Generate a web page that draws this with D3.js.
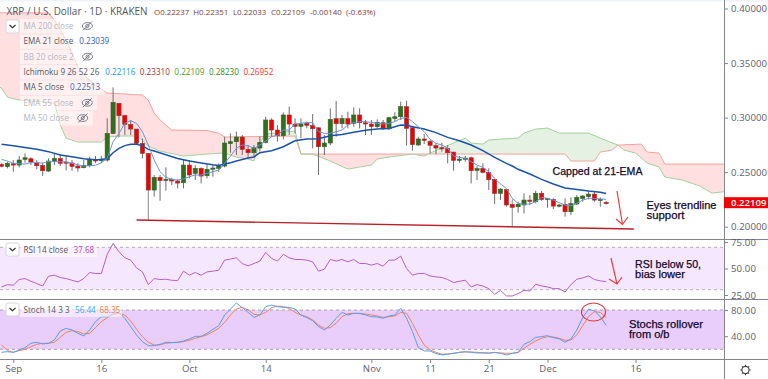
<!DOCTYPE html>
<html><head><meta charset="utf-8">
<style>html,body{margin:0;padding:0;background:#fff;overflow:hidden}svg{display:block}text{font-family:"Open Sans",sans-serif}</style>
<script src="https://cdn.jsdelivr.net/npm/d3@7/dist/d3.min.js"></script>
</head><body><svg id="c" width="768" height="379"></svg>
<script>
const FIRST=-2; // first bar is two days before 1 Sep
const openP=[.2571,.2550,.2577,.2565,.2617,.2623,.2584,.2562,.2510,.2599,.2626,.2593,.2584,.2556,.2541,.2562,.2617,.2605,.2611,.2855,.3131,.3021,.2938,.2895,.2764,.2672,.2336,.2452,.2425,.2434,.2419,.2403,.2565,.2489,.2535,.2467,.2529,.2535,.2556,.2761,.2779,.2822,.2709,.2678,.2721,.2773,.2978,.2886,.2834,.3024,.2941,.2920,.2947,.2926,.2907,.2733,.2767,.2990,.2944,.2990,.2947,.3024,.2953,.2941,.2917,.2953,.2898,.2990,.3008,.3100,.2907,.2749,.2804,.2782,.2743,.2724,.2715,.2684,.2608,.2623,.2632,.2516,.2535,.2498,.2434,.2305,.2342,.2205,.2183,.2199,.2244,.2229,.2306,.2254,.2251,.2189,.2205,.2137,.2208,.2260,.2275,.2299,.2244,.22237];
const highP=[.2581,.2596,.2611,.2648,.2672,.2636,.2611,.2587,.2626,.2666,.2666,.2645,.2611,.2581,.2611,.2642,.2648,.2648,.2993,.3277,.3131,.3021,.2978,.2895,.2810,.2672,.2474,.2474,.2544,.2449,.2434,.2617,.2611,.2565,.2544,.2574,.2571,.2581,.2825,.2855,.2871,.2840,.2749,.2749,.2825,.3008,.2993,.2932,.3048,.3100,.2993,.2993,.2963,.3033,.2907,.2840,.3085,.3152,.3024,.3054,.3094,.3085,.2978,.2978,.2984,.2978,.3008,.3048,.3146,.3155,.2907,.2825,.2849,.2795,.2764,.2770,.2749,.2684,.2648,.2648,.2642,.2556,.2581,.2535,.2434,.2351,.2342,.2251,.2229,.2306,.2290,.2330,.2327,.2260,.2260,.2208,.2260,.2269,.2290,.2290,.2330,.2321,.2269,.22351];
const lowP=[.2544,.2535,.2504,.2544,.2587,.2565,.2526,.2464,.2504,.2565,.2556,.2516,.2513,.2504,.2535,.2544,.2581,.2581,.2596,.2849,.2819,.2840,.2840,.2749,.2626,.2061,.2275,.2238,.2330,.2382,.2351,.2351,.2443,.2428,.2397,.2443,.2458,.2504,.2544,.2678,.2657,.2657,.2626,.2642,.2688,.2764,.2825,.2779,.2801,.2840,.2855,.2810,.2901,.2718,.2474,.2657,.2749,.2825,.2901,.2901,.2917,.2901,.2840,.2840,.2901,.2886,.2886,.2963,.2978,.2743,.2697,.2743,.2758,.2672,.2666,.2688,.2581,.2513,.2587,.2596,.2397,.2428,.2489,.2336,.2208,.2244,.2183,.2000,.2128,.2122,.2199,.2214,.2238,.2174,.2162,.2177,.2092,.2107,.2199,.2229,.2251,.2229,.2183,.22033];
const closeP=[.2553,.2581,.2565,.2611,.2632,.2593,.2559,.2513,.2602,.2626,.2581,.2584,.2553,.2538,.2562,.2617,.2602,.2620,.2855,.3140,.3017,.2938,.2895,.2764,.2672,.2336,.2452,.2422,.2434,.2419,.2400,.2565,.2474,.2535,.2464,.2526,.2538,.2556,.2767,.2779,.2822,.2709,.2678,.2724,.2773,.2978,.2886,.2834,.3024,.2941,.2920,.2941,.2929,.2898,.2733,.2767,.2984,.2944,.2990,.2941,.3024,.2953,.2941,.2917,.2956,.2898,.2999,.3008,.3100,.2901,.2752,.2804,.2791,.2746,.2721,.2715,.2678,.2608,.2620,.2629,.2513,.2532,.2498,.2431,.2305,.2345,.2199,.2177,.2205,.2244,.2235,.2306,.2251,.2260,.2189,.2199,.2137,.2211,.2269,.2281,.2299,.2244,.2251,.22109];
const ema21=[[-2,.2755],[0,.2743],[2,.2727],[4,.2709],[6,.2688],[8,.2657],[10,.2642],[12,.2623],[14,.2614],[15,.2617],[16,.2623],[17,.2678],[18,.2718],[19,.2743],[20,.2755],[21,.2755],[22,.2743],[23,.2709],[24,.2694],[26,.2660],[28,.2626],[30,.2602],[32,.2584],[34,.2568],[35,.2562],[36,.2574],[37,.2587],[38,.2602],[40,.2629],[41,.2639],[42,.2678],[44,.2697],[46,.2733],[48,.2788],[50,.2804],[52,.2807],[54,.2834],[56,.2846],[58,.2865],[60,.2883],[62,.2895],[64,.2901],[66,.2932],[67,.2929],[68,.2917],[70,.2895],[72,.2862],[74,.2819],[76,.2788],[78,.2749],[80,.2697],[82,.2636],[84,.2581],[85,.2556],[86,.2526],[88,.2483],[90,.2434],[92,.2391],[94,.2354],[96,.2342],[98,.2327],[100,.2315],[101,.23039]];
const ma5=[.2617,.2602,.2581,.2577,.2574,.2587,.2587,.2584,.2596,.2596,.2596,.2593,.2581,.2568,.2556,.2559,.2562,.2587,.2626,.2779,.2855,.2947,.2972,.2947,.2871,.2749,.2611,.2504,.2452,.2434,.2428,.2437,.2458,.2474,.2474,.2489,.2504,.2519,.2581,.2648,.2718,.2749,.2743,.2718,.2749,.2785,.2825,.2840,.2886,.2886,.2941,.2947,.2956,.2953,.2871,.2856,.2856,.2871,.2886,.2932,.2956,.2963,.2963,.2956,.2947,.2941,.2947,.2963,.2993,.3002,.2963,.2917,.2871,.2801,.2764,.2749,.2718,.2648,.2636,.2626,.2596,.2565,.2544,.2504,.2443,.2391,.2351,.2260,.2214,.2205,.2208,.2229,.2269,.2260,.2244,.2220,.2199,.2192,.2214,.2244,.2260,.2260,.2254,.22513];
const spanA=[[-3,.3298],[-2,.3271],[-1,.3188],[1,.3161],[7,.3133],[8,.2932],[9,.2812],[11,.2776],[15,.2776],[16,.2822],[18,.2831],[21,.2831],[22,.2794],[23,.2739],[25,.2693],[29,.2647],[33,.2666],[36,.2675],[38,.2638],[40,.2620],[41,.2602],[42,.2767],[43,.2849],[46,.2867],[48,.2877],[49,.2666],[51,.2666],[54,.2602],[57,.2528],[59,.2547],[61,.2565],[62,.2620],[64,.2638],[68,.2666],[70,.2647],[71,.2675],[73,.2721],[75,.2767],[77,.2812],[78,.2767],[80,.2757],[81,.2794],[83,.2803],[86,.2812],[87,.2858],[89,.2895],[91,.2904],[93,.2858],[98,.2858],[100,.2812],[103,.2748],[104,.2703],[106,.2675],[108,.2583],[110,.2547],[111,.2455],[114,.2427],[117,.2372],[119,.2308],[122,.2326]];
const spanB=[[-3,.3961],[6,.3959],[7,.3894],[9,.3711],[10,.3592],[11,.3464],[12,.3390],[14,.3298],[16,.3225],[22,.3207],[23,.3161],[24,.3042],[25,.2978],[27,.2886],[33,.2881],[35,.2858],[36,.2822],[48,.2831],[49,.2666],[94,.2666],[95,.2602],[99,.2602],[100,.2684],[102,.2703],[103,.2748],[107,.2757],[108,.2684],[110,.2675],[111,.2574],[122,.2574]];
const trend=[[21,.2061],[105.7,.1979]];
const rsi=[32.6,34.8,34.2,39.6,40.5,38,35.8,33.5,42.7,43.7,41.5,40.5,38.9,37.3,40.5,46.2,45.3,45.3,63.3,73.7,65.8,60.1,57.9,50.6,46.8,34.8,40.5,39.6,39.9,38.9,38.6,47.5,43.7,46.2,43.7,46.8,47.5,48.4,57.9,58.9,60.1,54.7,52.5,54.7,57,65.2,59.5,57,63.3,60.1,58.5,58.5,57.9,56.3,47.5,49.4,58.5,57,58.5,56.3,58.5,54.7,54.7,53.2,54.7,52.2,57.9,57.9,61.7,50,43.7,45.3,45.3,43,42.1,41.5,39.6,36.7,38,38.9,32.6,34.8,33.5,31,25.6,29.4,24.1,24.1,26.3,29.4,28.8,35.1,33.5,32.6,31,31,27.8,34.8,39.9,41.1,43,39.6,38.3,37.68];
const stochK=[15.4,16.4,15.4,19,22.6,29.2,30.7,28.1,29.2,34.2,48,52,49.5,44.4,40.3,49.5,62.2,69.8,69.8,73.9,76.4,67.3,54.6,41.9,31.7,25.6,25.6,27.6,30.7,30.2,30.7,32.7,35.8,39.8,39.8,44.4,50.5,56.1,72.4,81.5,90.7,83.6,76.4,68.8,72.4,85.1,87.6,85.1,84.1,84.1,81.5,72.4,68.3,63.7,54.6,49.5,57.1,67.3,76.4,72.4,74.9,74.9,72.4,69.8,69.3,67.3,70.8,72.4,82.5,67.3,47,22.6,17.5,17.5,13.4,11.4,12.4,13.9,15.4,16.4,15.4,14.4,14.4,13.9,15.4,13.9,11.4,13.9,15.4,27.6,31.7,38.3,39.3,40.9,37.8,35.8,30.7,35.8,49.5,68.3,81.5,78.5,69.8,56.44];
const stochD=[26.6,18,15.4,18,20,24.1,27.6,29.2,29.2,30.7,38.3,45.9,48.5,47,43.4,44.4,53.1,62.2,68.3,73.4,74.9,72.4,63.2,50.5,39.3,30.7,26.6,26.6,29.2,30.2,30.7,31.7,33.7,36.8,39.3,41.9,47,52,61.2,72.4,81.5,84.1,80,73.4,72.4,76.4,83.6,86.1,85.1,82.5,76.4,72.4,69.8,64.7,57.1,52,53.1,59.7,69.8,74.4,74.9,74.4,73.9,72.4,70.8,68.8,69.8,70.8,76.4,74.9,59.7,41.9,26.6,19,15.4,12.4,12.9,13.9,15.4,15.9,15.9,15.4,14.9,14.4,14.9,14.4,13.9,13.9,14.9,21.5,27.6,32.7,36.8,39.3,38.8,36.8,33.7,34.2,41.9,56.1,69.8,77.5,76.4,68.35];
const priceTicks=[.2,.25,.3,.35,.4];
const rsiTicks=[25,50,75];
const stochTicks=[40,80];
const dateTicks=[0,15,30,43,61,71,81,91,106];
const dateLabels=["Sep","16","Oct","14","Nov","11","21","Dec","16"];
const legendRows=[
 {label:"MA 200 close",hidden:true,vals:[]},
 {label:"EMA 21 close",vals:[["0.23039","#2f5fb3"]]},
 {label:"BB 20 close 2",hidden:true,vals:[]},
 {label:"Ichimoku 9 26 52 26",vals:[["0.22116","#2196f3"],["0.23310","#a83232"],["0.22109","#4c9a2a"],["0.28230","#2e8b2e"],["0.26952","#ff3030"]]},
 {label:"MA 5 close",vals:[["0.22513","#3a66b8"]]},
 {label:"EMA 55 close",hidden:true,vals:[]},
 {label:"MA 50 close",hidden:true,vals:[]}];

const W=724,svg=d3.select("#c");
const x=d3.scaleLinear().domain([0,100]).range([13.3,600.3]);
const y=d3.scaleLinear().domain([.2,.4]).range([226.7,8.5]);
const yR=d3.scaleLinear().domain([25,75]).range([295,242]);
const yS=d3.scaleLinear().domain([20,80]).range([349.3,310]);
const defs=svg.append("defs");
const clip=(id,yy,h)=>defs.append("clipPath").attr("id",id).append("rect").attr("x",0).attr("y",yy).attr("width",W).attr("height",h);
clip("cM",0,239);clip("cR",240,59);clip("cS",300,59);

// ---- main pane
const g=svg.append("g").attr("clip-path","url(#cM)");
const lineXY=d3.line().x(d=>x(d[0])).y(d=>y(d[1]));
const aboveB=d3.area().x(d=>x(d[0])).y0(0).y1(d=>y(d[1]));
const belowB=d3.area().x(d=>x(d[0])).y0(239).y1(d=>y(d[1]));
defs.append("clipPath").attr("id","aB").append("path").attr("d",aboveB(spanB));
defs.append("clipPath").attr("id","bB").append("path").attr("d",belowB(spanB));
const cloud=spanA.concat(spanB.slice().reverse());
const cloudPath=lineXY(cloud)+"Z";
g.append("g").attr("clip-path","url(#bB)").append("path").attr("d",cloudPath).attr("fill","#ffdfe0").attr("fill-rule","evenodd");
g.append("g").attr("clip-path","url(#aB)").append("path").attr("d",cloudPath).attr("fill","#e4f1e3").attr("fill-rule","evenodd");
g.append("path").attr("d",lineXY(spanB)).attr("fill","none").attr("stroke","#f6a29c").attr("stroke-width",1);
g.append("path").attr("d",lineXY(spanA)).attr("fill","none").attr("stroke","#a6cf9f").attr("stroke-width",1);

const idx=d3.range(openP.length);
const cg=g.selectAll("g.c").data(idx).join("g").attr("class","c");
cg.append("line").attr("x1",i=>x(i+FIRST)).attr("x2",i=>x(i+FIRST)).attr("y1",i=>y(highP[i])).attr("y2",i=>y(lowP[i]))
  .attr("stroke",i=>i+FIRST==23||i+FIRST==85?"#8a8a8a":"#6e6e6e").attr("stroke-width",1);
cg.append("rect").attr("x",i=>x(i+FIRST)-2.1).attr("width",4.2)
  .attr("y",i=>y(Math.max(openP[i],closeP[i]))).attr("height",i=>Math.max(1.2,Math.abs(y(openP[i])-y(closeP[i]))))
  .attr("fill",i=>closeP[i]>=openP[i]?"#2f6f1e":"#f00000").attr("stroke",i=>closeP[i]>=openP[i]?"#37612a":"#8f3a3a").attr("stroke-width",.6);

g.append("path").attr("d",lineXY(ema21)).attr("fill","none").attr("stroke","#1c52a8").attr("stroke-width",1.5);
g.append("path").attr("d",d3.line().x((d,i)=>x(i+FIRST)).y(d=>y(d))(ma5)).attr("fill","none").attr("stroke","#6f93d8").attr("stroke-width",1);
g.append("path").attr("d",lineXY(trend)).attr("fill","none").attr("stroke","#bb1f28").attr("stroke-width",1.4);
svg.append("rect").attr("width",768).attr("height",1.5).attr("fill","#f0f3fa");

// ---- RSI pane
const rp=svg.append("g").attr("clip-path","url(#cR)");
rp.append("rect").attr("x",0).attr("width",W).attr("y",yR(70)).attr("height",yR(30)-yR(70)).attr("fill","#f5e7fd");
[70,30].forEach(v=>rp.append("line").attr("x1",0).attr("x2",W).attr("y1",yR(v)).attr("y2",yR(v)).attr("stroke","#b5aeb8").attr("stroke-dasharray","3 3"));
rp.append("path").attr("d",d3.line().x((d,i)=>x(i+FIRST)).y(d=>yR(d))(rsi)).attr("fill","none").attr("stroke","#b660c9").attr("stroke-width",1);

// ---- Stoch pane
const sp=svg.append("g").attr("clip-path","url(#cS)");
sp.append("rect").attr("x",0).attr("width",W).attr("y",yS(80)).attr("height",yS(20)-yS(80)).attr("fill","#e9cdfb");
[80,20].forEach(v=>sp.append("line").attr("x1",0).attr("x2",W).attr("y1",yS(v)).attr("y2",yS(v)).attr("stroke","#a89eb0").attr("stroke-dasharray","3 3"));
const sl=d3.line().x((d,i)=>x(i+FIRST)).y(d=>yS(d));
sp.append("path").attr("d",sl(stochD)).attr("fill","none").attr("stroke","#f2825a").attr("stroke-width",1);
sp.append("path").attr("d",sl(stochK)).attr("fill","none").attr("stroke","#5a9df5").attr("stroke-width",1);

// ---- frame
const fc="#84868c";
[239.5,299.5,359.5].forEach(v=>svg.append("line").attr("x1",0).attr("x2",768).attr("y1",v).attr("y2",v).attr("stroke",fc).attr("stroke-width",1));
svg.append("line").attr("x1",724.5).attr("x2",724.5).attr("y1",0).attr("y2",379).attr("stroke",fc);

// ---- axes
const AX=9.6;
function styleAxis(s){s.select(".domain").remove();s.selectAll("text").attr("fill","#5d606b").style("font-size",AX+"px").style("letter-spacing",".1px");s.selectAll("line").attr("stroke",fc);}
svg.append("g").attr("transform","translate(724,0)").call(d3.axisRight(y).tickValues(priceTicks).tickFormat(d3.format(".5f")).tickSize(4).tickPadding(3)).call(styleAxis);
svg.append("g").attr("transform","translate(724,0)").call(d3.axisRight(yR).tickValues(rsiTicks).tickFormat(d3.format(".2f")).tickSize(4).tickPadding(3)).call(styleAxis);
svg.append("g").attr("transform","translate(724,0)").call(d3.axisRight(yS).tickValues(stochTicks).tickFormat(d3.format(".2f")).tickSize(4).tickPadding(3)).call(styleAxis);
svg.append("g").attr("transform","translate(0,359)").call(d3.axisBottom(x).tickValues(dateTicks).tickFormat((d,i)=>dateLabels[i]).tickSize(4).tickPadding(2)).call(styleAxis);

// last price tag
const lastP=closeP[closeP.length-1];
svg.append("rect").attr("x",724).attr("y",y(lastP)-6.5).attr("width",44).attr("height",11).attr("fill","#f00000");
svg.append("text").attr("x",731).attr("y",y(lastP)+2.5).attr("fill","#fff").style("font-size",AX+"px").style("font-weight","600").text(d3.format(".5f")(lastP));

// gear
const gear=svg.append("g").attr("transform","translate(745.5,370)").attr("fill","none").attr("stroke","#444");
gear.append("circle").attr("r",3.6).attr("stroke-width",1.1);
d3.range(8).forEach(k=>{const a=k*Math.PI/4;gear.append("line").attr("x1",3.6*Math.cos(a)).attr("y1",3.6*Math.sin(a)).attr("x2",5.2*Math.cos(a)).attr("y2",5.2*Math.sin(a)).attr("stroke-width",1.1);});

// ---- legend
const bgLayer=svg.append("g");
const LF=8.15;
const txt=(s,xx,yy,fill,size)=>svg.append("text").attr("x",xx).attr("y",yy).attr("fill",fill).style("font-size",(size||LF)+"px").text(s);
txt("XRP / U.S. Dollar · 1D · KRAKEN",6.5,14.5,"#55585f",9.95);
const ohlc=[["O0.22237",154],["H0.22351",193.3],["L0.22033",233],["C0.22109",271],["-0.00140",310],["(-0.63%)",346]];
ohlc.forEach(d=>txt(d[0],d[1],14.5,"#7a4040",7.9));

function chevron(cx,cy){
  svg.append("rect").attr("x",cx-6.5).attr("y",cy-6.5).attr("width",13).attr("height",13).attr("rx",2).attr("fill","#fff").attr("stroke","#d6d6dc");
  svg.append("path").attr("d",d3.line()([[cx-3,cy-1.5],[cx,cy+1.2],[cx+3,cy-1.5]])).attr("fill","none").attr("stroke","#333").attr("stroke-width",1.2);
}
function eye(cx,cy){
  const e=svg.append("g").attr("transform",`translate(${cx},${cy})`).attr("fill","none").attr("stroke","#6c6e78").attr("stroke-width",.9);
  e.append("ellipse").attr("rx",5).attr("ry",3.4);
  e.append("circle").attr("r",1.6);
  e.append("line").attr("x1",-4.5).attr("y1",4.5).attr("x2",4.5).attr("y2",-4.5);
}
chevron(12.5,26.5);
legendRows.forEach((r,k)=>{
  const yy=26+k*15.35;
  const t=txt(r.label,23.5,yy+3,r.hidden?"#b4b6bf":"#55585f");
  const tw=t.node().getComputedTextLength();
  let xx=23.5+tw+6;
  r.vals.forEach(v=>{const vt=txt(v[0],xx,yy+3,v[1]);xx+=vt.node().getComputedTextLength()+4.5;});
  if(r.hidden){eye(23.5+tw+14,yy);xx=23.5+tw+24;}
  bgLayer.append("rect").attr("x",20).attr("y",yy-7).attr("width",xx-20).attr("height",14.5).attr("fill","#fff").attr("fill-opacity",.55);
});
chevron(12.5,249.5);
txt("RSI 14 close",23.5,252.5,"#55585f");
txt("37.68",73.5,252.5,"#ab47bc");
chevron(12.5,309.5);
txt("Stoch 14 3 3",23.5,312.5,"#55585f");
txt("56.44",75,312.5,"#42a5f5");
txt("68.35",99.5,312.5,"#f57c3c");
bgLayer.append("rect").attr("x",20).attr("y",243).attr("width",77).attr("height",14).attr("fill","#fff").attr("fill-opacity",.55);
bgLayer.append("rect").attr("x",20).attr("y",303).attr("width",102).attr("height",14).attr("fill","#fff").attr("fill-opacity",.55);

// ---- annotations
const note=(s,xx,yy,len)=>svg.append("text").attr("x",xx).attr("y",yy).attr("fill","#14082a").attr("stroke","#14082a").attr("stroke-width",.25).attr("textLength",len).attr("lengthAdjust","spacingAndGlyphs").style("font-family","'Liberation Sans',Arial,sans-serif").style("font-size","10.6px").text(s);
note("Capped at 21-EMA",552.5,174.5,90);
note("Eyes trendline",646.5,209,70);
note("support",646.5,219,38);
note("RSI below 50,",635,268,66);
note("bias lower",635,278,50);
note("Stochs rollover",629,328,74);
note("from o/b",629,338,40.5);
const red="#ee3b3b";
const arrow=(pts)=>svg.append("path").attr("d",d3.line()(pts)).attr("fill","none").attr("stroke",red).attr("stroke-width",1.2);
arrow([[617,191],[622.5,224.5]]);arrow([[616,219],[622.5,224.5],[628,217]]);
arrow([[611,258],[617,284]]);arrow([[609,279],[617,284],[622,277]]);
svg.append("ellipse").attr("cx",593.5).attr("cy",312).attr("rx",12).attr("ry",9).attr("fill","none").attr("stroke","#e53935").attr("stroke-width",1.2);
</script></body></html>
